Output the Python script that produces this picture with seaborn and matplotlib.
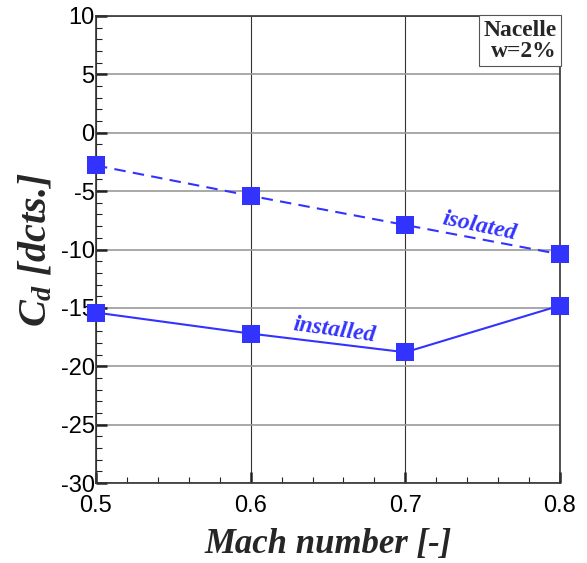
import numpy as np
import pandas as pd
import matplotlib
matplotlib.use("Agg")
import matplotlib.pyplot as plt
import seaborn as sns
from matplotlib.ticker import MultipleLocator

mach = [0.5, 0.6, 0.7, 0.8]
cd_isolated = [-2.8, -5.4, -7.9, -10.4]
cd_installed = [-15.4, -17.2, -18.8, -14.8]

blue = '#3333ff'

sns.set_style('white')
plt.rcParams['font.family'] = ['Liberation Sans', 'DejaVu Sans']
plt.rcParams['axes.unicode_minus'] = False
plt.rcParams['mathtext.fontset'] = 'custom'
plt.rcParams['mathtext.it'] = 'Liberation Serif:italic:bold'
plt.rcParams['mathtext.rm'] = 'Liberation Serif:bold'

df = pd.DataFrame({
    'mach': mach * 2,
    'cd': cd_isolated + cd_installed,
    'case': ['isolated'] * 4 + ['installed'] * 4,
})

fig = plt.figure(figsize=(5.87, 5.63), dpi=100)
ax = fig.add_axes([0.1635, 0.142, 0.7905, 0.8296])

sns.lineplot(data=df, x='mach', y='cd', style='case', dashes={'isolated': (5.5, 3.5), 'installed': ''},
             color=blue, marker='s', markersize=13, markeredgewidth=0, linewidth=1.5,
             ax=ax, legend=False, clip_on=False, zorder=5)

ax.set_xlim(0.5, 0.8)
ax.set_ylim(-30, 10)
ax.set_xticks([0.5, 0.6, 0.7, 0.8])
ax.set_xticklabels(['0.5', '0.6', '0.7', '0.8'])
ax.xaxis.set_minor_locator(MultipleLocator(0.02))
ax.yaxis.set_major_locator(MultipleLocator(5))
ax.yaxis.set_minor_locator(MultipleLocator(1))
ax.tick_params(which='both', left=True, bottom=True, direction='in', colors='#222222')
ax.tick_params(which='major', length=8, width=1.8, labelsize=17, labelcolor='black')
ax.tick_params(axis='y', which='major', pad=1)
ax.tick_params(axis='x', which='major', pad=8.5)
ax.tick_params(which='minor', length=4, width=0.8)
ax.grid(True, which='major', axis='x', color='#333333', linewidth=0.8)
ax.grid(True, which='major', axis='y', color='#999999', linewidth=1.2)
for s in ax.spines.values():
    s.set_color('#333333')
    s.set_linewidth(1.2)

ax.set_xlabel('Mach number [-]', fontsize=25, fontweight='bold', fontstyle='italic',
              family='Liberation Serif', labelpad=8)
ax.set_ylabel(r'$C_d$ [dcts.]', fontsize=29, fontweight='bold', fontstyle='italic',
              family='Liberation Serif', labelpad=4)

ax.text(0.748, -8.0, 'isolated', color=blue, fontsize=17, fontweight='bold', fontstyle='italic',
        family='Liberation Serif', rotation=-12, ha='center', va='center', zorder=6)
ax.text(0.654, -16.9, 'installed', color=blue, fontsize=17, fontweight='bold', fontstyle='italic',
        family='Liberation Serif', rotation=-8, ha='center', va='center', zorder=6)

ax.text(0.993, 0.992, 'Nacelle\nw=2%', transform=ax.transAxes, ha='right', va='top',
        fontsize=17, fontweight='bold', family='Liberation Serif', linespacing=1.0,
        bbox=dict(boxstyle='square,pad=0.2', facecolor='white', edgecolor='#555555', linewidth=0.8),
        zorder=10)

fig.savefig('out.png', dpi=100)
